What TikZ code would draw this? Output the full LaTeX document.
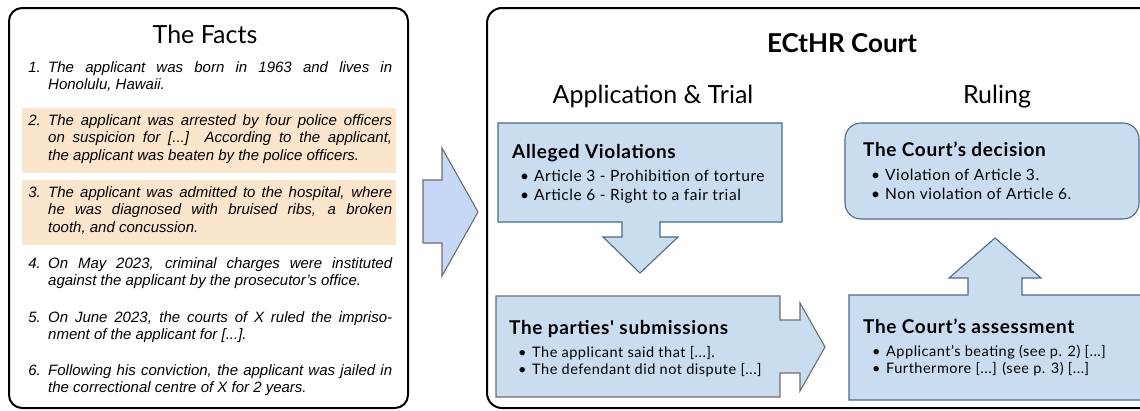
\documentclass[tikz,border=0pt]{standalone}
\usepackage{fontspec}
\setmainfont{Liberation Sans}
\newfontfamily\ral{Lato}
\newfontfamily\ralsp{Lato}[LetterSpace=3.5]
\definecolor{boxblue}{HTML}{CADCF0}
\definecolor{boxedge}{HTML}{4A6B8A}
\definecolor{arrfill}{HTML}{C6D8F6}
\definecolor{arredge}{HTML}{6E6E6E}
\definecolor{peach}{HTML}{FCE5CD}
\newcommand\jline[1]{\hbox to 344pt{#1}}
\newcommand\lline[1]{\hbox{#1}}
\newcommand\itemstack[1]{\vtop{\baselineskip=17.5pt\relax #1}}
\newcommand\bstack[2]{\vtop{\baselineskip=#1\relax #2}}
\newcommand\bl[1]{\hbox{\makebox[14pt][l]{\ral\textbullet}#1}}
\begin{document}
\begin{tikzpicture}[x=1pt,y=-1pt,
  fact/.style={font=\itshape\fontsize{15}{17.5}\selectfont, inner sep=0pt, anchor=base west},
  factnum/.style={font=\itshape\fontsize{15}{17.5}\selectfont, inner sep=0pt, anchor=base east},
  bigtitle/.style={font=\ral\fontsize{25}{30}\selectfont, inner sep=0pt, anchor=base},
  courttitle/.style={font=\ral\bfseries\fontsize{26}{30}\selectfont, inner sep=0pt, anchor=base},
  boxtitle/.style={font=\ralsp\bfseries\fontsize{19}{22}\selectfont, inner sep=0pt, anchor=base west},
  bulltext/.style={font=\ralsp\fontsize{15.5}{19}\selectfont, inner sep=0pt, anchor=base west},
  smallbull/.style={font=\ralsp\fontsize{14.5}{17}\selectfont, inner sep=0pt, anchor=base west},
  outer/.style={draw=black, line width=2pt, rounded corners=13pt},
  hl/.style={fill=peach, draw=none},
  bluebox/.style={fill=boxblue, draw=boxedge, line width=1.1pt},
  graybox/.style={fill=boxblue, draw=arredge, line width=1.1pt},
  bigarrow/.style={fill=arrfill, draw=arredge, line width=1.1pt, line join=miter}
]
\useasboundingbox (0,0) rectangle (1140,410);
\fill[white] (0,0) rectangle (1140,410);
\begin{scope}
\clip (0,0) rectangle (1140,410);
% ---------- left panel ----------
\draw[outer] (9,8) rectangle (408,408);
\fill[hl] (22,108) rectangle (396,173);
\fill[hl] (22,180) rectangle (396,245);
\node[bigtitle] (factstitle) at (205,43) {The Facts};

\node[factnum] (n1) at (41,72) {1.};
\node[fact] (f1) at (48,72) {\itemstack{\jline{The applicant was born in 1963 and lives in}\lline{Honolulu, Hawaii.}}};
\node[factnum] (n2) at (41,125) {2.};
\node[fact] (f2) at (48,125) {\itemstack{\jline{The applicant was arrested by four police officers}\jline{on suspicion for [...]\ \ According to the applicant,}\lline{the applicant was beaten by the police officers.}}};
\node[factnum] (n3) at (41,197) {3.};
\node[fact] (f3) at (48,197) {\itemstack{\jline{The applicant was admitted to the hospital, where}\jline{he was diagnosed with bruised ribs, a broken}\lline{tooth, and concussion.}}};
\node[factnum] (n4) at (41,268) {4.};
\node[fact] (f4) at (48,268) {\itemstack{\jline{On May 2023, criminal charges were instituted}\lline{against the applicant by the prosecutor’s office.}}};
\node[factnum] (n5) at (41,322) {5.};
\node[fact] (f5) at (48,322) {\itemstack{\jline{On June 2023, the courts of X ruled the impriso-}\lline{nment of the applicant for [...].}}};
\node[factnum] (n6) at (41,375) {6.};
\node[fact] (f6) at (48,375) {\itemstack{\jline{Following his conviction, the applicant was jailed in}\lline{the correctional centre of X for 2 years.}}};

% ---------- arrow between panels ----------
\draw[bigarrow] (423,180) -- (442,180) -- (442,148) -- (478,212) -- (442,276) -- (442,243) -- (423,243) -- cycle;

% ---------- right panel ----------
\draw[outer, rounded corners=15pt] (487,8) rectangle (1170,408);
\node[courttitle] (court) at (842,52) {ECtHR Court};
\node[bigtitle] (apptitle) at (653,103) {Application \& Trial};
\node[bigtitle] (rultitle) at (997,103) {Ruling};

% Alleged violations (down arrow callout)
\draw[bluebox] (498,123) -- (782,123) -- (782,222) -- (660,222) -- (660,237) -- (678,237) -- (640,273) -- (603,237) -- (622,237) -- (622,222) -- (498,222) -- cycle;
\node[boxtitle] (avt) at (512,158) {Alleged Violations};
\node[bulltext] (avb) at (520,181) {\bstack{19pt}{\bl{Article 3 - Prohibition of torture}\bl{Article 6 - Right to a fair trial}}};

% Parties' submissions (right arrow callout)
\draw[graybox] (496,296) -- (780,296) -- (780,320) -- (800,320) -- (800,303) -- (825,347) -- (800,391) -- (800,373) -- (780,373) -- (780,397) -- (496,397) -- cycle;
\node[boxtitle] (pst) at (509,334) {The parties' submissions};
\node[smallbull] (psb) at (518,357) {\bstack{17pt}{\bl{The applicant said that [...].}\bl{The defendant did not dispute [...]}}};

% Court's decision (rounded)
\draw[bluebox, rounded corners=16pt] (845,123) rectangle (1139,219);
\node[boxtitle] (cdt) at (863,156) {The Court’s decision};
\node[bulltext] (cdb) at (871,180) {\bstack{19pt}{\bl{Violation of Article 3.}\bl{Non violation of Article 6.}}};

% Court's assessment (up arrow callout)
\draw[bluebox] (849,400) -- (849,295) -- (968,295) -- (968,278) -- (949,278) -- (995,238) -- (1041,278) -- (1022,278) -- (1022,295) -- (1160,295) -- (1160,400) -- cycle;
\node[boxtitle] (cat) at (863,333) {The Court’s assessment};
\node[smallbull] (cab) at (872,356) {\bstack{17pt}{\bl{Applicant’s beating (see p. 2) [...]}\bl{Furthermore [...] (see p. 3) [...]}}};
\end{scope}
\end{tikzpicture}
\end{document}
